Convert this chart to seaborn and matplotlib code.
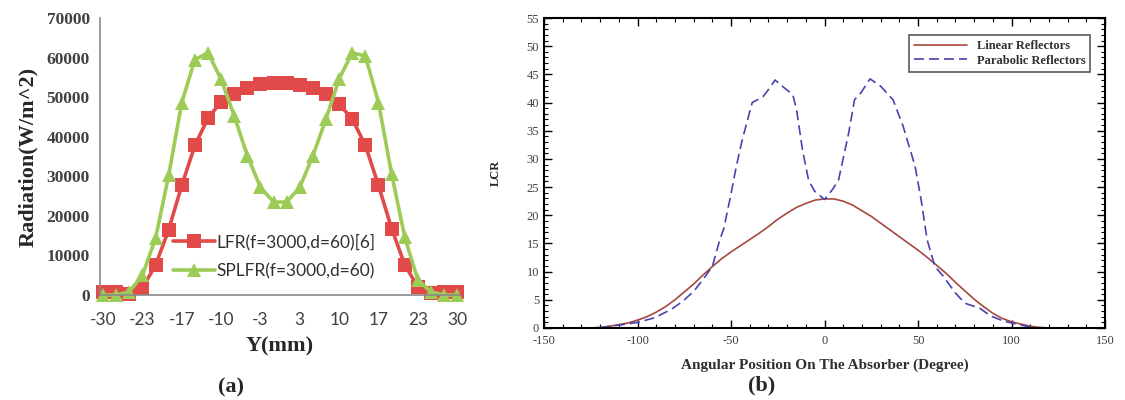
import matplotlib
matplotlib.use("Agg")
import matplotlib.pyplot as plt
import seaborn as sns
import pandas as pd
import numpy as np
from matplotlib.ticker import MultipleLocator

# ---- panel (a) data: 28 points from -30 to 30 mm ----
y_mm = np.linspace(-30, 30, 28)
lfr = [800, 800, 300, 1800, 7500, 16500, 27700, 37800, 44700, 48800, 50900, 52300, 53200, 53600,
       53500, 53000, 52300, 50700, 48200, 44500, 37800, 27700, 16800, 7700, 2000, 400, 800, 800]
splfr = [0, 0, 800, 5000, 14300, 30200, 48600, 59500, 61200, 54500, 45300, 35200, 27200, 23500,
         23500, 27200, 35200, 44500, 54600, 61200, 60400, 48600, 30600, 14700, 3800, 800, 0, 0]
a_labels = ["LFR(f=3000,d=60)[6]", "SPLFR(f=3000,d=60)"]
a_ticklabels = ["-30", "-23", "-17", "-10", "-3", "3", "10", "17", "23", "30"]

# ---- panel (b) data ----
lin_x = [-125, -120, -115, -110, -105, -100, -95, -90, -85, -80, -75, -70, -65, -60, -55, -50, -45,
         -40, -35, -30, -25, -20, -15, -10, -5, 0, 5, 10, 15, 20, 25, 30, 35, 40, 45, 50, 55, 60,
         65, 70, 75, 80, 85, 90, 95, 100, 105, 110, 115, 120]
lin_y = [0.0, 0.1, 0.3, 0.6, 0.9, 1.4, 2.0, 2.8, 3.8, 5.0, 6.4, 7.8, 9.4, 10.9, 12.3, 13.5, 14.6,
         15.7, 16.8, 18.0, 19.3, 20.4, 21.4, 22.1, 22.7, 22.9, 22.9, 22.5, 21.8, 20.8, 19.8, 18.6,
         17.4, 16.2, 15.0, 13.8, 12.5, 11.1, 9.7, 8.1, 6.6, 5.1, 3.8, 2.6, 1.7, 1.1, 0.7, 0.3,
         0.1, 0.0]
par_x = [-120, -117, -108, -100, -91, -82, -76, -70, -65, -60, -56, -54, -50.5, -47, -44, -38.7,
         -33, -30, -26.5, -22.6, -17, -15, -11.8, -8.6, -5.4, 0, 4.3, 7.5, 12.9, 16, 19.4, 24.3,
         30, 36.6, 42, 48.4, 51.6, 54.8, 59, 63.4, 70, 75, 83, 89, 96, 104, 113, 120]
par_y = [0.0, 0.2, 0.6, 1.0, 1.8, 3.3, 4.7, 6.5, 8.6, 10.9, 15.7, 17.5, 23.0, 29.0, 33.4, 40.0,
         41.0, 42.3, 44.0, 42.9, 41.4, 38.8, 31.6, 26.3, 24.3, 22.8, 24.6, 26.3, 34.6, 40.5, 41.7,
         44.2, 42.9, 40.5, 35.8, 28.7, 22.8, 15.7, 10.9, 9.2, 6.2, 4.4, 3.5, 2.1, 1.2, 0.6, 0.0,
         0.0]
b_labels = ["Linear Reflectors", "Parabolic Reflectors"]

sns.set_style("white")
plt.rcParams["font.family"] = ["Liberation Serif", "DejaVu Serif"]
plt.rcParams["axes.unicode_minus"] = False

fig = plt.figure(figsize=(11.25, 4), dpi=100)

# ================= panel (a) =================
ax1 = fig.add_axes([0.089, 0.2625, 0.32, 0.6925])
df_a = pd.DataFrame({
    "y": np.concatenate([y_mm, y_mm]),
    "rad": lfr + splfr,
    "series": [a_labels[0]] * 28 + [a_labels[1]] * 28,
})
sns.lineplot(data=df_a, x="y", y="rad", hue="series", style="series",
             markers={a_labels[0]: "s", a_labels[1]: "^"}, dashes=False,
             palette={a_labels[0]: "#e24a4a", a_labels[1]: "#9ccc55"},
             linewidth=2.6, markersize=9.5, markeredgewidth=0, ax=ax1, clip_on=False)
ax1.set_xlim(-30.5, 30.5)
ax1.set_ylim(0, 70000)
ax1.set_yticks(range(0, 70001, 10000))
ax1.set_xticks(y_mm, minor=True)
ax1.set_xticks(y_mm[::3])
ax1.set_xticklabels(a_ticklabels, family="Lato")
for s in ["top", "right"]:
    ax1.spines[s].set_visible(False)
for s in ["left", "bottom"]:
    ax1.spines[s].set_color("#8a8a8a")
    ax1.spines[s].set_linewidth(1.2)
ax1.tick_params(axis="y", which="major", direction="out", length=4, color="#8a8a8a",
                labelsize=12.5, labelcolor="#404040")
ax1.tick_params(axis="x", which="both", direction="in", length=5, color="#8a8a8a",
                labelsize=12.5, labelcolor="#404040", pad=12)
for t in ax1.get_yticklabels():
    t.set_fontweight("bold")
ax1.set_xlabel("Y(mm)", fontsize=16, fontweight="bold", labelpad=6)
ax1.set_ylabel("Radiation(W/m^2)", fontsize=16, fontweight="bold", labelpad=6)
leg = ax1.legend(loc="lower left", bbox_to_anchor=(0.16, 0.0), frameon=False,
                 handlelength=2.4, handletextpad=0.1, labelspacing=0.75,
                 prop={"family": "Lato", "size": 12.5})
for t in leg.get_texts():
    t.set_color("#303030")
fig.text(0.205, 0.0325, "(a)", fontsize=16, fontweight="bold", ha="center", va="center")

# ================= panel (b) =================
ax2 = fig.add_axes([0.4836, 0.18, 0.4987, 0.775])
df_b = pd.DataFrame({
    "ang": lin_x + par_x,
    "lcr": lin_y + par_y,
    "series": [b_labels[0]] * len(lin_x) + [b_labels[1]] * len(par_x),
})
sns.lineplot(data=df_b, x="ang", y="lcr", hue="series", style="series",
             dashes={b_labels[0]: "", b_labels[1]: (6, 3)},
             palette={b_labels[0]: "#a5483f", b_labels[1]: "#4545b0"},
             linewidth=1.2, ax=ax2)
ax2.set_xlim(-150, 150)
ax2.set_ylim(0, 55)
ax2.xaxis.set_major_locator(MultipleLocator(50))
ax2.xaxis.set_minor_locator(MultipleLocator(10))
ax2.yaxis.set_major_locator(MultipleLocator(5))
ax2.yaxis.set_minor_locator(MultipleLocator(1))
for s in ax2.spines.values():
    s.set_color("black")
    s.set_linewidth(1.5)
ax2.tick_params(which="major", direction="in", length=6, width=1, color="black",
                labelsize=9, labelcolor="#404040", left=True, bottom=True, top=True, right=True)
ax2.tick_params(which="minor", direction="in", length=3, width=0.8, color="black",
                left=True, bottom=True, top=True, right=True)
ax2.tick_params(axis="x", pad=5)
ax2.set_xlabel("Angular Position On The Absorber (Degree)", fontsize=11, fontweight="bold",
               labelpad=8, color="#303030")
ax2.set_ylabel("LCR", fontsize=9, fontweight="bold", labelpad=18)
leg2 = ax2.legend(loc="upper right", bbox_to_anchor=(0.985, 0.965), frameon=True, fancybox=False,
                  shadow=False, handlelength=4.2, borderpad=0.4, labelspacing=0.2,
                  prop={"size": 9, "weight": "bold"})
leg2.get_frame().set_edgecolor("#303030")
leg2.get_frame().set_linewidth(1.2)
for t in leg2.get_texts():
    t.set_color("#303030")
fig.text(0.677, 0.0375, "(b)", fontsize=16, fontweight="bold", ha="center", va="center")

fig.savefig("out.png", dpi=100, facecolor="white")
